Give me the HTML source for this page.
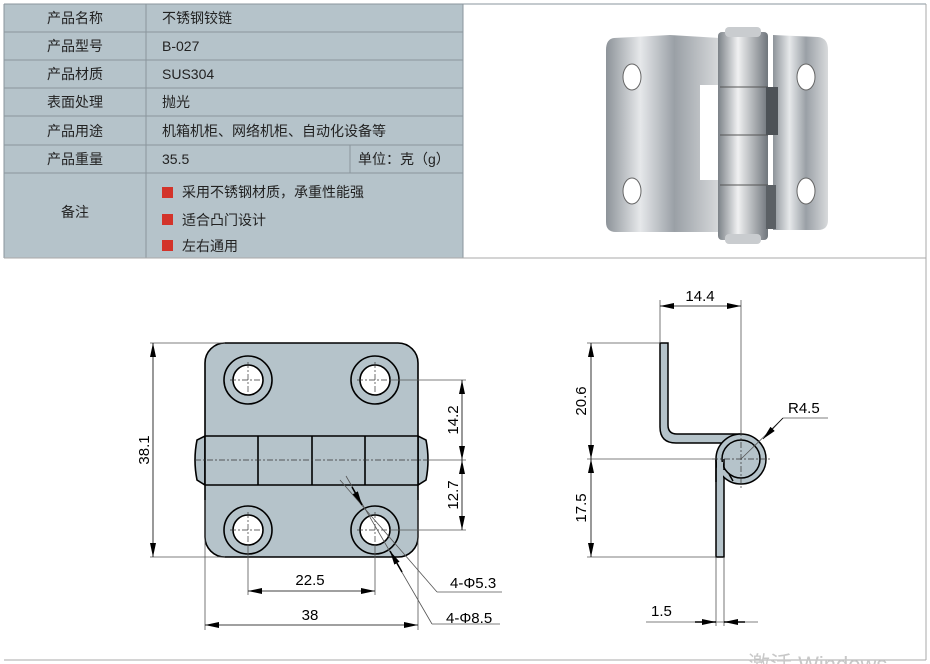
<!DOCTYPE html>
<html><head><meta charset="utf-8"><style>
body{margin:0;width:930px;height:664px;background:#fff;overflow:hidden;position:relative;font-family:"Liberation Sans","Noto Sans CJK SC",sans-serif;}
svg{position:absolute;left:0;top:0}
</style></head><body>
<svg width="930" height="664" viewBox="0 0 930 664" font-family="Liberation Sans, Noto Sans CJK SC, sans-serif">
<defs>
<marker id="a" markerWidth="14" markerHeight="6" refX="14" refY="3" orient="auto-start-reverse" markerUnits="userSpaceOnUse"><path d="M0,0 L14,3 L0,6 Z" fill="#000"/></marker>
<linearGradient id="m" x1="0" x2="1"><stop offset="0" stop-color="#8d9399"/><stop offset="0.3" stop-color="#e6e8ea"/><stop offset="0.6" stop-color="#9aa0a6"/><stop offset="1" stop-color="#d8dadc"/></linearGradient>
<linearGradient id="k" x1="0" x2="1"><stop offset="0" stop-color="#7c8288"/><stop offset="0.4" stop-color="#f0f1f2"/><stop offset="1" stop-color="#70767c"/></linearGradient>
</defs>
<rect x="4" y="4" width="459" height="254" fill="#b5c3ca"/>
<g stroke="#8a969c" stroke-width="1">
<line x1="4" y1="4" x2="926" y2="4"/>
<line x1="4" y1="32" x2="463" y2="32"/><line x1="4" y1="60" x2="463" y2="60"/><line x1="4" y1="88" x2="463" y2="88"/><line x1="4" y1="116" x2="463" y2="116"/><line x1="4" y1="145" x2="463" y2="145"/><line x1="4" y1="173" x2="463" y2="173"/>
<line x1="146" y1="4" x2="146" y2="258"/><line x1="350" y1="145" x2="350" y2="173"/>
<line x1="463" y1="4" x2="463" y2="258"/><line x1="4" y1="4" x2="4" y2="258"/>
<line x1="4" y1="258" x2="926" y2="258" stroke="#aaa"/>
<line x1="926" y1="4" x2="926" y2="660" stroke="#aaa"/>
<line x1="4" y1="660" x2="926" y2="660" stroke="#aaa"/>
</g>
<g font-size="14" fill="#222">
<text x="75" y="23" text-anchor="middle">产品名称</text>
<text x="75" y="51" text-anchor="middle">产品型号</text>
<text x="75" y="79" text-anchor="middle">产品材质</text>
<text x="75" y="107" text-anchor="middle">表面处理</text>
<text x="75" y="136" text-anchor="middle">产品用途</text>
<text x="75" y="164" text-anchor="middle">产品重量</text>
<text x="75" y="217" text-anchor="middle">备注</text>
<text x="162" y="23">不锈钢铰链</text>
<text x="162" y="51">B-027</text>
<text x="162" y="79">SUS304</text>
<text x="162" y="107">抛光</text>
<text x="162" y="136">机箱机柜、网络机柜、自动化设备等</text>
<text x="162" y="164">35.5</text>
<text x="358" y="164">单位：克（g）</text>
<text x="182" y="197">采用不锈钢材质，承重性能强</text>
<text x="182" y="225">适合凸门设计</text>
<text x="182" y="251">左右通用</text>
</g>
<rect x="162" y="187" width="11" height="11" fill="#d3332a"/>
<rect x="162" y="214" width="11" height="11" fill="#d3332a"/>
<rect x="162" y="240" width="11" height="11" fill="#d3332a"/>
<!-- photo -->
<path d="M614,38 Q606,39 606,50 L606,222 Q606,232 616,232 L720,232 L720,180 L700,180 L700,85 L720,85 L720,38 L670,35 Z" fill="url(#m)"/>
<path d="M773,35 L818,37 Q828,38 828,50 L828,220 Q828,230 818,230 L773,230 Z" fill="url(#m)"/>
<rect x="718" y="32" width="50" height="208" rx="4" fill="url(#k)"/>
<rect x="725" y="27" width="36" height="10" rx="4" fill="#c9cccf"/>
<rect x="725" y="234" width="36" height="10" rx="4" fill="#c9cccf"/>
<line x1="720" y1="87" x2="768" y2="87" stroke="#555"/><line x1="720" y1="135" x2="768" y2="135" stroke="#555"/><line x1="720" y1="185" x2="768" y2="185" stroke="#555"/>
<rect x="766" y="87" width="12" height="48" fill="#4d5257"/>
<rect x="766" y="185" width="10" height="44" fill="#5b6065"/>
<ellipse cx="632" cy="77" rx="9" ry="13" fill="#fff" stroke="#666"/>
<ellipse cx="632" cy="191" rx="9" ry="13" fill="#fff" stroke="#666"/>
<ellipse cx="806" cy="77" rx="9" ry="13" fill="#fff" stroke="#666"/>
<ellipse cx="806" cy="191" rx="9" ry="13" fill="#fff" stroke="#666"/>
<!-- front view -->
<g stroke="#000" stroke-width="1.6" fill="#b5c3ca">
<path d="M197,440 Q193,460 197,480 L205,485 L205,436 Z"/>
<path d="M426,440 Q430,460 426,480 L418,485 L418,436 Z"/>
<rect x="205" y="343" width="213" height="214" rx="20"/>
<line x1="205" y1="436" x2="418" y2="436"/><line x1="205" y1="485" x2="418" y2="485"/>
<line x1="258" y1="436" x2="258" y2="485"/><line x1="312" y1="436" x2="312" y2="485"/><line x1="365" y1="436" x2="365" y2="485"/>
<circle cx="248" cy="380" r="24"/><circle cx="248" cy="380" r="15" fill="#fff"/>
<circle cx="375" cy="380" r="24"/><circle cx="375" cy="380" r="15" fill="#fff"/>
<circle cx="248" cy="530" r="24"/><circle cx="248" cy="530" r="15" fill="#fff"/>
<circle cx="375" cy="530" r="24"/><circle cx="375" cy="530" r="15" fill="#fff"/>
</g>
<g stroke="#333" stroke-width="0.7" stroke-dasharray="6,2,2,2" fill="none">
<line x1="195" y1="460" x2="430" y2="460"/>
<line x1="230" y1="380" x2="266" y2="380"/><line x1="248" y1="362" x2="248" y2="398"/>
<line x1="357" y1="380" x2="393" y2="380"/><line x1="375" y1="362" x2="375" y2="398"/>
<line x1="230" y1="530" x2="266" y2="530"/><line x1="248" y1="512" x2="248" y2="548"/>
<line x1="357" y1="530" x2="393" y2="530"/><line x1="375" y1="512" x2="375" y2="548"/>
</g>
<g stroke="#555" stroke-width="0.8" fill="none">
<line x1="150" y1="343" x2="225" y2="343"/><line x1="150" y1="557" x2="225" y2="557"/>
<line x1="153" y1="343" x2="153" y2="557" stroke="#000" marker-start="url(#a)" marker-end="url(#a)"/>
<line x1="390" y1="380" x2="466" y2="380"/><line x1="428" y1="460" x2="466" y2="460"/><line x1="390" y1="530" x2="466" y2="530"/>
<line x1="462" y1="380" x2="462" y2="460" stroke="#000" marker-start="url(#a)" marker-end="url(#a)"/>
<line x1="462" y1="460" x2="462" y2="530" stroke="#000" marker-start="url(#a)" marker-end="url(#a)"/>
<line x1="248" y1="545" x2="248" y2="595"/><line x1="375" y1="545" x2="375" y2="595"/>
<line x1="248" y1="591" x2="375" y2="591" stroke="#000" marker-start="url(#a)" marker-end="url(#a)"/>
<line x1="205" y1="500" x2="205" y2="630"/><line x1="418" y1="500" x2="418" y2="630"/>
<line x1="205" y1="625" x2="418" y2="625" stroke="#000" marker-start="url(#a)" marker-end="url(#a)"/>
<line x1="340" y1="480" x2="437" y2="592"/><line x1="437" y1="592" x2="502" y2="592"/>
<line x1="346" y1="476" x2="432" y2="624"/><line x1="432" y1="624" x2="500" y2="624"/>
<line x1="352" y1="487" x2="362" y2="505" stroke="#000" stroke-width="1.5" marker-end="url(#a)"/>
<line x1="402" y1="572" x2="390" y2="551" stroke="#000" stroke-width="1.5" marker-end="url(#a)"/>
</g>
<g fill="#000" font-size="15">
<text transform="translate(149,450) rotate(-90)" text-anchor="middle">38.1</text>
<text transform="translate(458,420) rotate(-90)" text-anchor="middle">14.2</text>
<text transform="translate(458,495) rotate(-90)" text-anchor="middle">12.7</text>
<text x="310" y="585" text-anchor="middle">22.5</text>
<text x="310" y="620" text-anchor="middle">38</text>
<text x="450" y="588">4-Φ5.3</text>
<text x="446" y="623">4-Φ8.5</text>
</g>
<!-- side view -->
<g stroke="#000" stroke-width="1.5" fill="#b5c3ca">
<path d="M660,343 L668,343 L668,425 Q668,434 677,434 L741,434 L741,443 L676,443 Q660,443 660,427 Z"/>
<rect x="716" y="459" width="8" height="98"/>
<circle cx="741" cy="459" r="25"/>
<circle cx="741" cy="459" r="19"/>
</g>
<rect x="717" y="462" width="6" height="20" fill="#b5c3ca"/>
<path d="M716,459 L716,482 M724,459 L724,470" stroke="#000" stroke-width="1.5"/>
<path d="M729,474 L733,481" stroke="#000" stroke-width="1.5"/>
<g stroke="#333" stroke-width="0.7" stroke-dasharray="6,2,2,2"><line x1="712" y1="459" x2="770" y2="459"/><line x1="741" y1="430" x2="741" y2="488"/></g>
<g stroke="#555" stroke-width="0.8" fill="none">
<line x1="660" y1="300" x2="660" y2="343"/><line x1="741" y1="300" x2="741" y2="434"/>
<line x1="660" y1="306" x2="741" y2="306" stroke="#000" marker-start="url(#a)" marker-end="url(#a)"/>
<line x1="587" y1="343" x2="660" y2="343"/><line x1="587" y1="459" x2="716" y2="459"/><line x1="587" y1="557" x2="716" y2="557"/>
<line x1="591" y1="343" x2="591" y2="459" stroke="#000" marker-start="url(#a)" marker-end="url(#a)"/>
<line x1="591" y1="459" x2="591" y2="557" stroke="#000" marker-start="url(#a)" marker-end="url(#a)"/>
<line x1="741" y1="459" x2="783" y2="418"/><line x1="783" y1="418" x2="828" y2="418"/>
<line x1="716" y1="557" x2="716" y2="626"/><line x1="724" y1="557" x2="724" y2="626"/>
<line x1="646" y1="622" x2="758" y2="622"/>
<line x1="695" y1="622" x2="716" y2="622" stroke="#000" stroke-width="1.5" marker-end="url(#a)"/>
<line x1="745" y1="622" x2="724" y2="622" stroke="#000" stroke-width="1.5" marker-end="url(#a)"/>
<line x1="783" y1="418" x2="763" y2="439" stroke="#000" marker-end="url(#a)"/>
</g>
<g fill="#000" font-size="15">
<text x="700" y="301" text-anchor="middle">14.4</text>
<text transform="translate(586,401) rotate(-90)" text-anchor="middle">20.6</text>
<text transform="translate(586,508) rotate(-90)" text-anchor="middle">17.5</text>
<text x="788" y="413">R4.5</text>
<text x="651" y="616">1.5</text>
</g>
<text x="748" y="672" font-size="22" fill="#c8c8c8">激活 Windows</text>
</svg>
</body></html>
